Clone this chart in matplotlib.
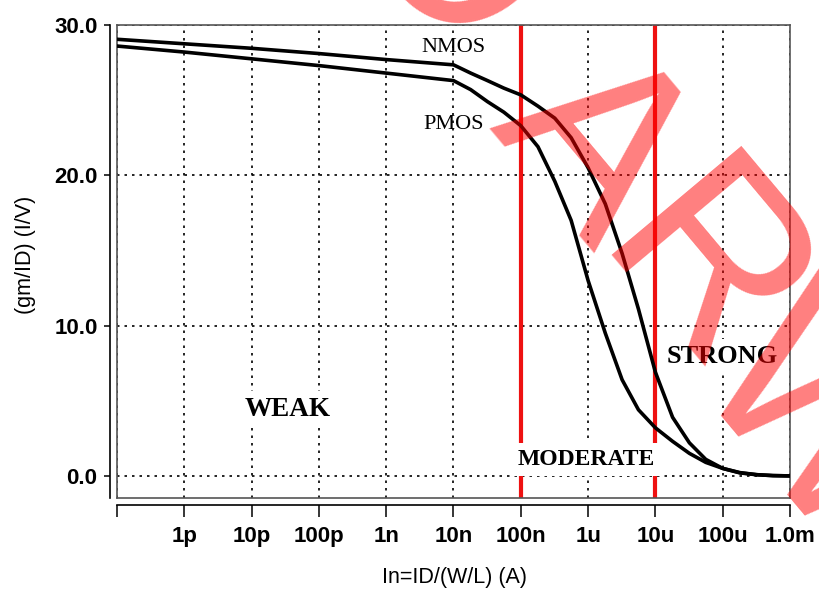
import numpy as np
import matplotlib.pyplot as plt
from matplotlib.lines import Line2D

# Normalised drain current In = ID/(W/L) (A) and gm/ID (1/V)
nmos_in = [1e-13, 1e-12, 1e-11, 1e-10, 1e-9, 1e-8, 1.8e-8, 3.2e-8, 5.6e-8,
           1e-7, 1.8e-7, 3.2e-7, 5.6e-7, 1e-6, 1.8e-6, 3.2e-6, 5.6e-6,
           1e-5, 1.8e-5, 3.2e-5, 5.6e-5, 1e-4, 1.8e-4, 3.2e-4, 5.6e-4, 1e-3]
nmos_gm_id = [29.05, 28.75, 28.45, 28.1, 27.7, 27.35, 26.8, 26.3, 25.8,
              25.35, 24.6, 23.8, 22.5, 20.5, 18.1, 14.8, 11.1,
              6.9, 3.9, 2.2, 1.1, 0.5, 0.2, 0.08, 0.02, 0.0]

pmos_in = nmos_in
pmos_gm_id = [28.6, 28.2, 27.75, 27.3, 26.8, 26.3, 25.7, 24.9, 24.2,
              23.3, 21.9, 19.6, 17.0, 13.0, 9.5, 6.4, 4.4,
              3.2, 2.3, 1.5, 0.9, 0.5, 0.22, 0.08, 0.02, 0.0]

x_ticks = [1e-13, 1e-12, 1e-11, 1e-10, 1e-9, 1e-8, 1e-7, 1e-6, 1e-5, 1e-4, 1e-3]
x_tick_labels = ['', '1p', '10p', '100p', '1n', '10n', '100n', '1u', '10u', '100u', '1.0m']
y_ticks = [0, 10, 20, 30]
y_tick_labels = ['0.0', '10.0', '20.0', '30.0']

# region boundaries (red lines) and region names
bounds = [1e-7, 1e-5]
regions = ['WEAK', 'MODERATE', 'STRONG']
region_x = [3.4e-11, 9.5e-7, 1e-4]
region_y = [4.45, 1.1, 7.95]

W, H = 820, 591
fig = plt.figure(figsize=(W / 100, H / 100), dpi=100)
ax = fig.add_axes([117 / W, 1 - 498 / H, (790 - 117) / W, (498 - 25) / H])

ax.set_xscale('log')
ax.set_xlim(1e-13, 1e-3)
ax.set_ylim(-1.47, 30)

# dotted grid
ax.grid(True, color='black', linestyle=(0, (1.5, 3)), lw=1.2)
ax.set_axisbelow(True)

# red region boundaries
for b in bounds:
    ax.axvline(b, color='#ee1111', lw=3, zorder=2)

# curves
ax.plot(nmos_in, nmos_gm_id, color='black', lw=2.6, zorder=3, solid_joinstyle='round')
ax.plot(pmos_in, pmos_gm_id, color='black', lw=2.6, zorder=3, solid_joinstyle='round')

# curve labels
ax.text(1e-8, 28.5, 'NMOS', family='Liberation Serif', fontsize=16,
        ha='center', va='center', zorder=4)
ax.text(1e-8, 23.35, 'PMOS', family='Liberation Serif', fontsize=16,
        ha='center', va='center', zorder=4)

# region labels
sizes = [19.5, 17, 19]
for name, rx, ry, fs in zip(regions, region_x, region_y, sizes):
    ax.text(rx, ry, name, family='Liberation Serif', fontweight='bold', fontsize=fs,
            ha='center', va='center', zorder=4,
            bbox=dict(facecolor='white', edgecolor='none', pad=4))

# frame (grey box) plus offset black axis lines, LTspice style
for s in ['top', 'right']:
    ax.spines[s].set_color('#555555')
    ax.spines[s].set_linewidth(1.2)
ax.add_line(Line2D([0, 0], [0, 1], transform=ax.transAxes, color='#555555', lw=1.2, clip_on=False))
ax.add_line(Line2D([0, 1], [0, 0], transform=ax.transAxes, color='#555555', lw=1.2, clip_on=False))
ax.spines['left'].set_position(('outward', 4.7))
ax.spines['bottom'].set_position(('outward', 5.2))
for s in ['left', 'bottom']:
    ax.spines[s].set_color('black')
    ax.spines[s].set_linewidth(1.2)

ax.set_xticks(x_ticks)
ax.set_xticklabels(x_tick_labels)
ax.xaxis.set_minor_locator(plt.NullLocator())
ax.set_yticks(y_ticks)
ax.set_yticklabels(y_tick_labels)
ax.tick_params(axis='x', length=8.6, width=1.1, pad=6.5, labelsize=16)
ax.tick_params(axis='y', length=4.3, width=1.1, pad=5, labelsize=16)
for lab in ax.get_xticklabels() + ax.get_yticklabels():
    lab.set_family('Liberation Sans')
    lab.set_fontweight('bold')

fig.text(454 / W, 1 - 577 / H, 'In=ID/(W/L) (A)', family='Liberation Sans',
         fontsize=15.5, ha='center', va='center')
fig.text(26 / W, 1 - 255 / H, '(gm/ID) (I/V)', family='Liberation Sans',
         fontsize=15.5, ha='center', va='center', rotation=90)

# red watermark letters, drawn on top
wm_letters = ['O', 'A', 'R', 'W']
wm_pos = [(393, -2), (540, 191), (648, 322), (762, 466)]
for ch, (px, py) in zip(wm_letters, wm_pos):
    fig.text(px / W, 1 - py / H, ch, family='Liberation Sans', fontsize=177,
             color='red', alpha=0.5, rotation=-50, rotation_mode='anchor',
             ha='center', va='baseline', zorder=10)

fig.savefig('out.png', dpi=100)
